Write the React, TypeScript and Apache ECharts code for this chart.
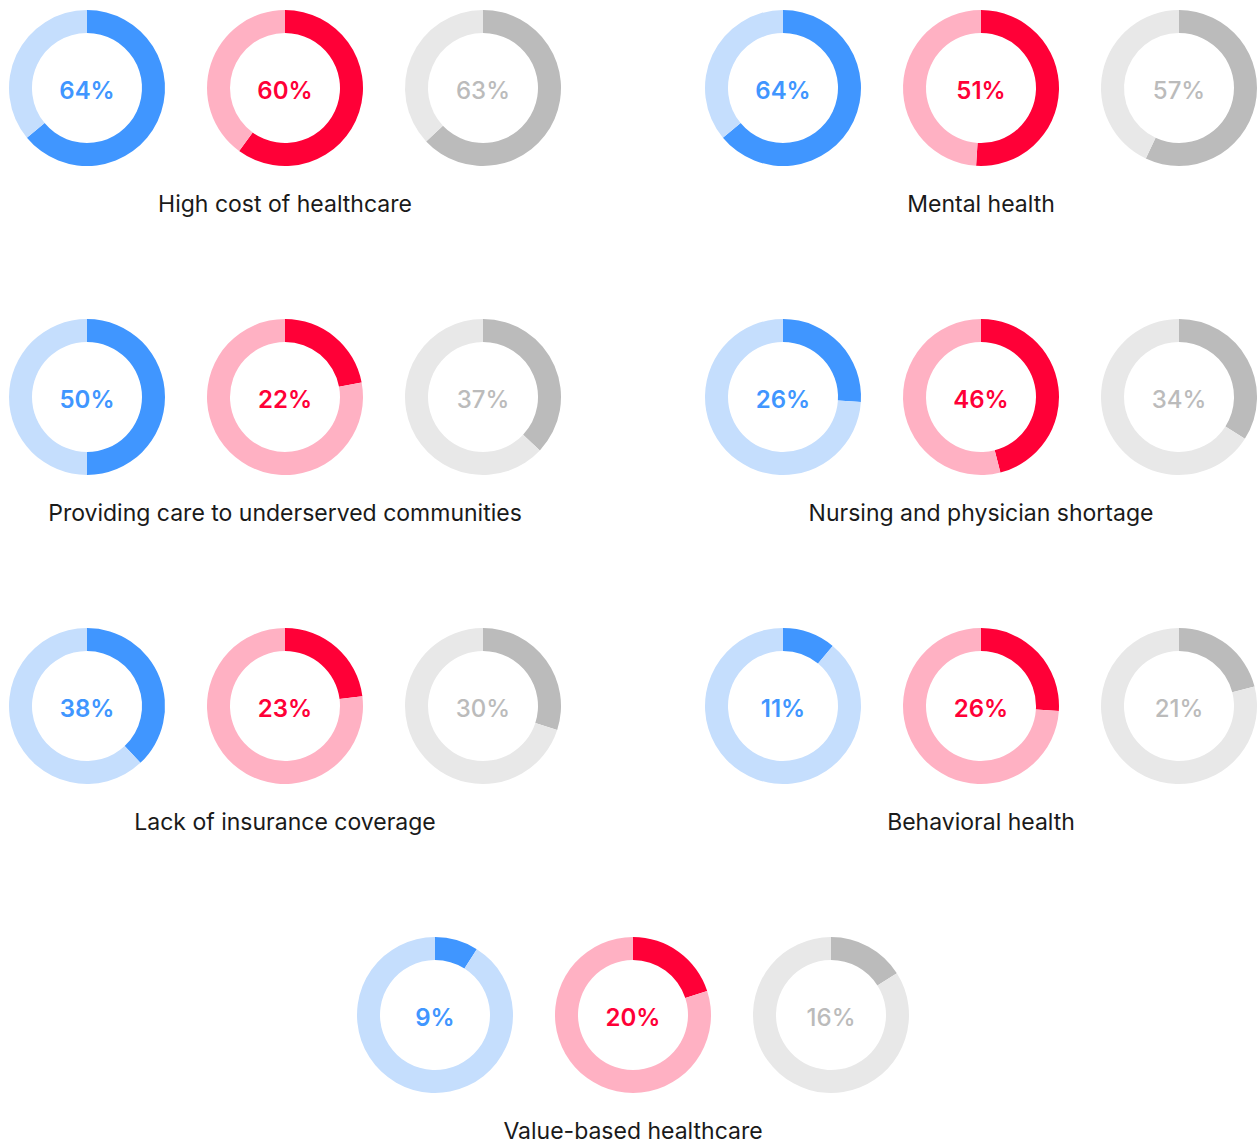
import React, { useEffect, useRef } from "react";
import * as echarts from "echarts";

const categories = [
  "High cost of healthcare",
  "Mental health",
  "Providing care to underserved communities",
  "Nursing and physician shortage",
  "Lack of insurance coverage",
  "Behavioral health",
  "Value-based healthcare",
];
const blueValues = [64, 64, 50, 26, 38, 11, 9];
const redValues = [60, 51, 22, 46, 23, 26, 20];
const greyValues = [63, 57, 37, 34, 30, 21, 16];

const groupCenters: [number, number][] = [
  [285, 88],
  [981, 88],
  [285, 397],
  [981, 397],
  [285, 706],
  [981, 706],
  [633, 1015],
];

const palettes = [
  { dark: "#4096FF", light: "#C5DEFD", text: "#4096FF", weight: 600 },
  { dark: "#FF0037", light: "#FFB1C3", text: "#FF0037", weight: 600 },
  { dark: "#BBBBBB", light: "#E8E8E8", text: "#BBBBBB", weight: 500 },
];

const W = 1257;
const H = 1141;
const SPACING = 198;
const R_IN = 55;
const R_OUT = 78;
const FONT = "Inter, 'Noto Sans', sans-serif";

export default function App() {
  const ref = useRef<HTMLDivElement>(null);
  useEffect(() => {
    if (!ref.current) return;
    const chart = echarts.init(ref.current, null, { renderer: "svg" });
    const series: any[] = [];
    const graphic: any[] = [];
    const sets = [blueValues, redValues, greyValues];
    categories.forEach((cat, i) => {
      const [gx, gy] = groupCenters[i];
      sets.forEach((vals, j) => {
        const cx = gx + (j - 1) * SPACING;
        const p = palettes[j];
        const v = vals[i];
        series.push({
          type: "pie",
          center: [cx, gy],
          radius: [R_IN, R_OUT],
          startAngle: 90,
          clockwise: true,
          silent: true,
          label: { show: false },
          labelLine: { show: false },
          emphasis: { disabled: true },
          itemStyle: { borderWidth: 0 },
          data: [
            { value: v, itemStyle: { color: p.dark } },
            { value: 100 - v, itemStyle: { color: p.light } },
          ],
        });
        graphic.push({
          type: "text",
          x: cx,
          y: gy + 2,
          style: {
            text: v + "%",
            fill: p.text,
            font: `${p.weight} 24px ${FONT}`,
            textAlign: "center",
            textVerticalAlign: "middle",
          },
        });
      });
      graphic.push({
        type: "text",
        x: gx,
        y: gy + 116,
        style: {
          text: cat,
          fill: "#1a1a1a",
          font: `400 23px ${FONT}`,
          textAlign: "center",
          textVerticalAlign: "middle",
        },
      });
    });
    chart.setOption({
      animation: false,
      backgroundColor: "#ffffff",
      series,
      graphic,
    });
    return () => chart.dispose();
  }, []);
  return (
    <div
      ref={ref}
      style={{ position: "fixed", left: 0, top: 0, width: W, height: H }}
    />
  );
}
